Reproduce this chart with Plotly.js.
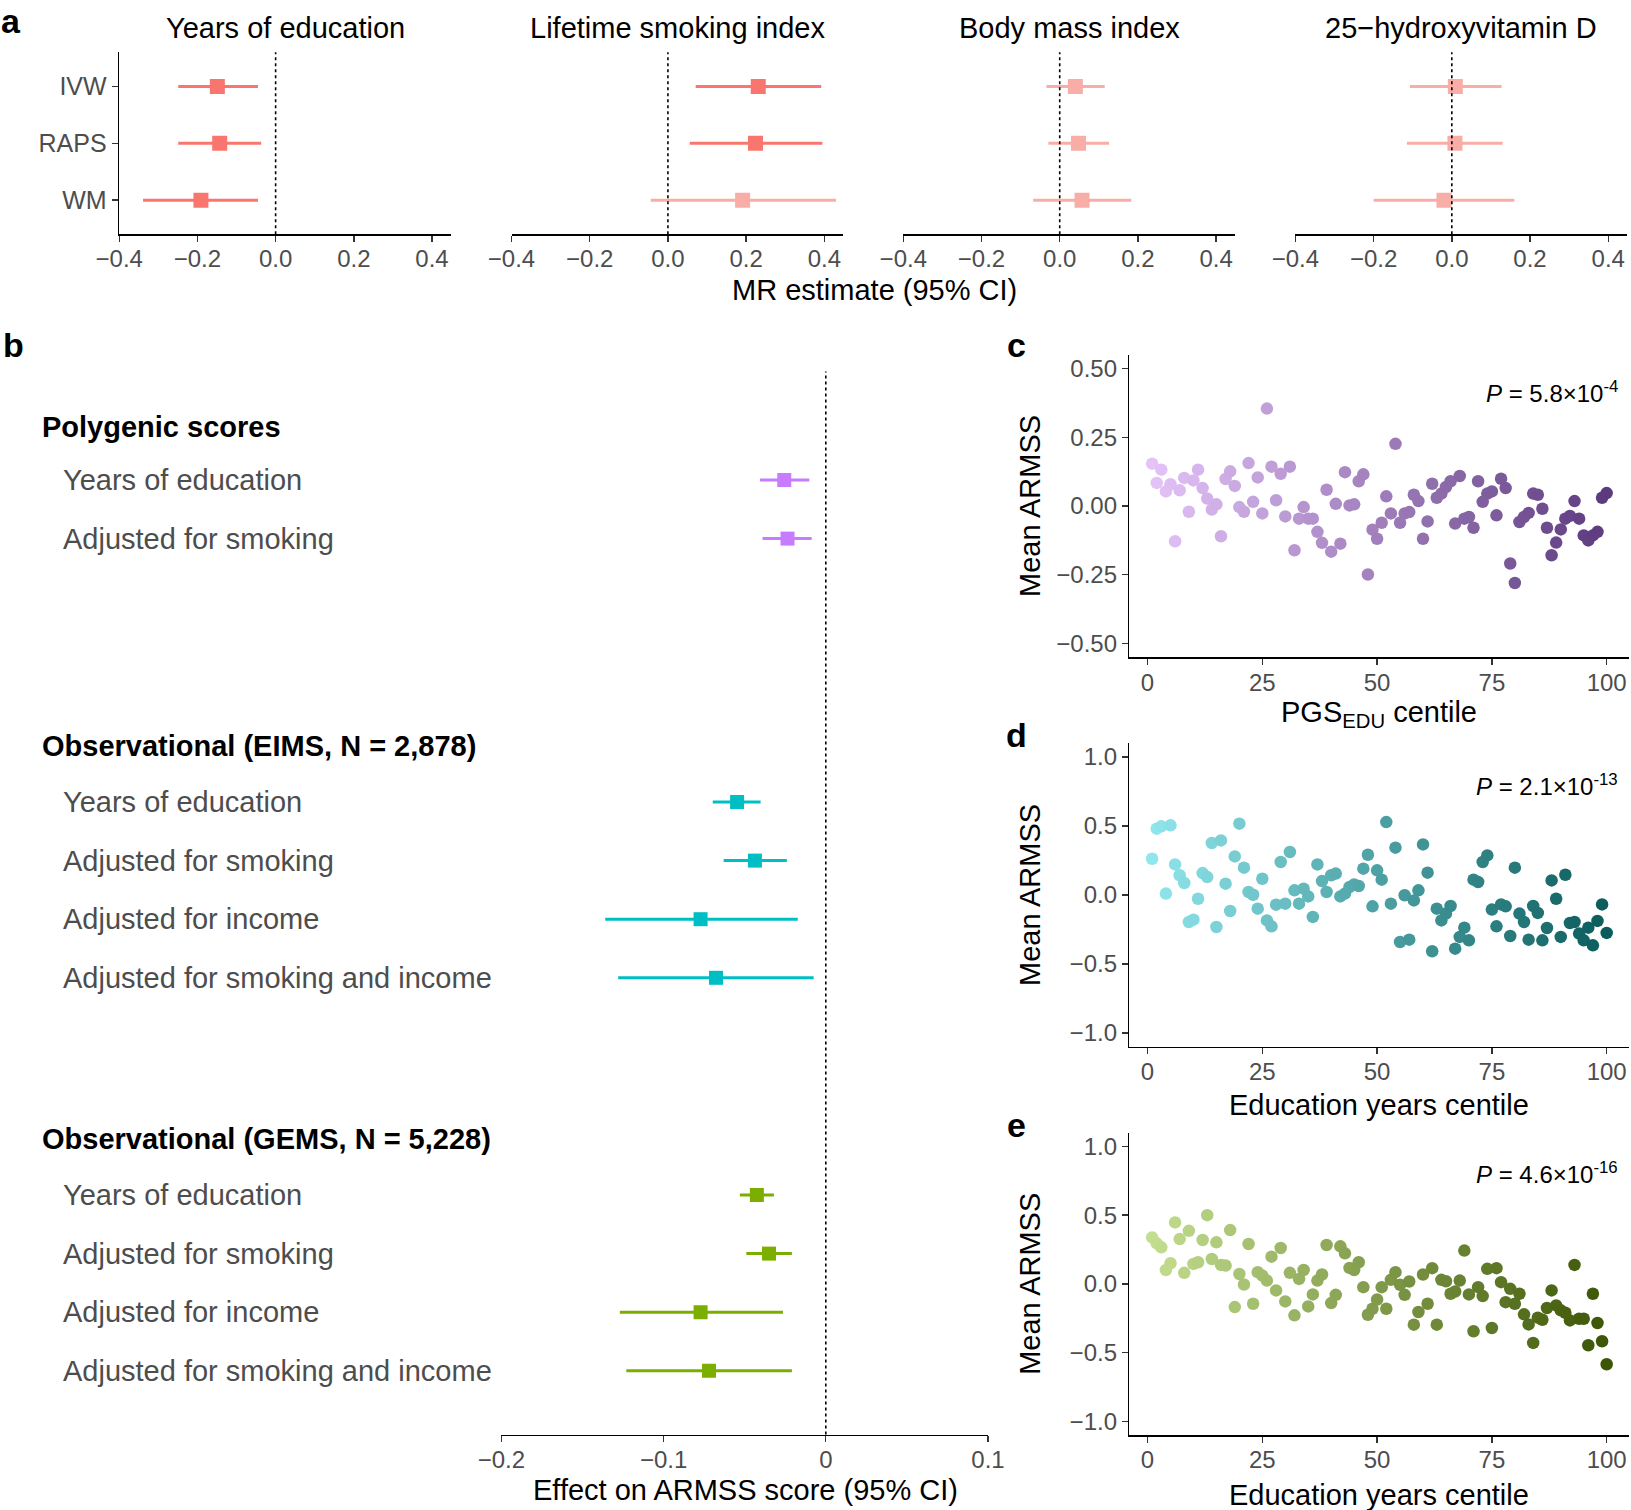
<!DOCTYPE html>
<html>
<head>
<meta charset="utf-8">
<script src="https://cdn.plot.ly/plotly-3.0.1.min.js"></script>
<style>
html, body { margin: 0; padding: 0; background: #fff; }
#fig { width: 1631px; height: 1510px; }
</style>
</head>
<body>
<div id="fig"></div>
<script>
const W = 1631, H = 1510;
const fx = p => p / W;
const fy = p => 1 - p / H;
const FONT = 'Liberation Sans, Arial, Helvetica, sans-serif';

// ---- panel a: MR estimates ----
const exposures = ['Years of education', 'Lifetime smoking index', 'Body mass index', '25\u2212hydroxyvitamin D'];
const methods = ['IVW', 'RAPS', 'WM'];
const mrEst = [[-0.149, -0.143, -0.191], [0.231, 0.224, 0.191], [0.040, 0.048, 0.057], [0.009, 0.008, -0.020]];
const mrLo  = [[-0.249, -0.249, -0.339], [0.071, 0.056, -0.044], [-0.034, -0.029, -0.068], [-0.107, -0.115, -0.200]];
const mrHi  = [[-0.045, -0.037, -0.045], [0.392, 0.395, 0.430], [0.115, 0.126, 0.183], [0.127, 0.130, 0.160]];

// ---- panel b: effect on ARMSS ----
const groupNames = ['Polygenic scores', 'Observational (EIMS, N = 2,878)', 'Observational (GEMS, N = 5,228)'];
const groupColors = ['#C77CFF', '#00BFC4', '#7CAE00'];
const pgsLabels = ['Years of education', 'Adjusted for smoking'];
const obsLabels = ['Years of education', 'Adjusted for smoking', 'Adjusted for income', 'Adjusted for smoking and income'];
const pgsEst = [-0.0256, -0.0236];
const pgsLo = [-0.0406, -0.0390];
const pgsHi = [-0.0102, -0.0087];
const eimsEst = [-0.0547, -0.0437, -0.0772, -0.0677];
const eimsLo = [-0.0697, -0.0630, -0.1360, -0.1280];
const eimsHi = [-0.0402, -0.0240, -0.0173, -0.0075];
const gemsEst = [-0.0425, -0.0350, -0.0772, -0.0720];
const gemsLo = [-0.0530, -0.0490, -0.1270, -0.1230];
const gemsHi = [-0.0320, -0.0209, -0.0264, -0.0209];

// ---- panels c-e: mean ARMSS per centile ----
const centiles = Array.from({length: 100}, (_, i) => i + 1);
const pgsArmss = [
  0.154, 0.084, 0.132, 0.053, 0.079, -0.128, 0.057, 0.102, -0.021, 0.093,
  0.132, 0.065, 0.027, -0.013, 0.006, -0.110, 0.098, 0.126, 0.073, -0.004,
  -0.021, 0.156, 0.015, 0.104, -0.027, 0.354, 0.143, 0.021, 0.117, -0.038,
  0.143, -0.161, -0.046, -0.004, -0.046, -0.046, -0.094, -0.134, 0.059, -0.166,
  0.008, -0.137, 0.123, 0.002, 0.006, 0.090, 0.115, -0.249, -0.086, -0.119,
  -0.061, 0.035, -0.027, 0.226, -0.061, -0.027, -0.022, 0.041, 0.018, -0.119,
  -0.056, 0.081, 0.030, 0.045, 0.069, 0.090, -0.064, 0.109, -0.046, -0.040,
  -0.079, 0.090, 0.015, 0.045, 0.053, -0.034, 0.099, 0.065, -0.209, -0.280,
  -0.058, -0.040, -0.025, 0.045, 0.041, -0.010, -0.079, -0.179, -0.133, -0.085,
  -0.046, -0.036, 0.018, -0.046, -0.107, -0.125, -0.107, -0.094, 0.030, 0.047
];
const eimsArmss = [
  0.263, 0.481, 0.498, 0.010, 0.505, 0.222, 0.143, 0.087, -0.196, -0.179,
  -0.027, 0.159, 0.130, 0.377, -0.232, 0.396, 0.082, -0.116, 0.280, 0.517,
  0.198, 0.022, 0.002, -0.099, 0.118, -0.184, -0.227, -0.070, 0.239, -0.063,
  0.312, 0.034, -0.063, 0.046, -0.010, -0.159, 0.222, 0.101, 0.022, 0.143,
  0.155, -0.010, 0.010, 0.058, 0.077, 0.065, 0.191, 0.292, -0.082, 0.179,
  0.111, 0.529, -0.063, 0.343, -0.341, -0.002, -0.324, -0.039, 0.034, 0.367,
  0.162, -0.408, -0.099, -0.184, -0.135, -0.080, -0.389, -0.304, -0.237, -0.329,
  0.111, 0.094, 0.239, 0.287, -0.106, -0.227, -0.068, -0.082, -0.297, 0.198,
  -0.135, -0.196, -0.324, -0.080, -0.130, -0.329, -0.239, 0.106, -0.027, -0.304,
  0.147, -0.203, -0.196, -0.280, -0.329, -0.237, -0.365, -0.188, -0.068, -0.275
];
const gemsArmss = [
  0.338, 0.295, 0.266, 0.101, 0.150, 0.447, 0.326, 0.080, 0.386, 0.145,
  0.157, 0.319, 0.500, 0.181, 0.302, 0.138, 0.133, 0.391, -0.169, 0.072,
  -0.005, 0.290, -0.145, 0.085, 0.060, 0.024, 0.198, -0.048, 0.261, -0.128,
  0.080, -0.229, 0.036, 0.101, -0.164, -0.077, 0.024, 0.068, 0.283, -0.140,
  -0.080, 0.273, 0.222, 0.116, 0.101, 0.157, -0.024, -0.225, -0.181, -0.114,
  -0.024, -0.181, 0.029, 0.085, -0.007, -0.080, 0.017, -0.297, -0.205, 0.068,
  -0.145, 0.114, -0.297, 0.029, 0.019, -0.072, -0.056, 0.024, 0.242, -0.077,
  -0.345, -0.024, -0.089, 0.109, -0.321, 0.114, 0.012, -0.133, -0.036, -0.145,
  -0.072, -0.222, -0.295, -0.430, -0.246, -0.261, -0.176, -0.048, -0.157, -0.193,
  -0.210, -0.266, 0.138, -0.254, -0.254, -0.447, -0.072, -0.285, -0.418, -0.585
];
const pValues = ['5.8\u00d710<sup>-4</sup>', '2.1\u00d710<sup>-13</sup>', '4.6\u00d710<sup>-16</sup>'];
const scatterScales = [
  [[0, '#E3C3F8'], [1, '#5C3A7E']],
  [[0, '#8FE6EC'], [1, '#0B5C5C']],
  [[0, '#C4DE8F'], [1, '#3C5606']]
];
const scatterXTitles = ['PGS<sub>EDU</sub> centile', 'Education years centile', 'Education years centile'];

const traces = [];
const shapes = [];
const annotations = [];
const layout = {
  width: W, height: H,
  margin: {l: 0, r: 0, t: 0, b: 0},
  paper_bgcolor: '#fff', plot_bgcolor: 'rgba(0,0,0,0)',
  showlegend: false,
  font: {family: FONT, color: '#000'}
};

function axis(extra) {
  return Object.assign({
    showline: true, linecolor: '#000', linewidth: 1.6,
    ticks: 'outside', ticklen: 6, tickwidth: 1.4, tickcolor: '#333',
    showgrid: false, zeroline: false, fixedrange: true,
    tickfont: {family: FONT, size: 24, color: '#4D4D4D'}
  }, extra);
}
function note(text, x, y, extra) {
  annotations.push(Object.assign({
    text: text, xref: 'paper', yref: 'paper', x: x, y: y,
    showarrow: false, xanchor: 'center', yanchor: 'middle',
    font: {family: FONT, size: 29, color: '#000'}
  }, extra));
}
function forestPoint(x, y, lo, hi, col, xa, ya, size) {
  traces.push({
    type: 'scatter', mode: 'markers', x: [x], y: [y], xaxis: xa, yaxis: ya,
    marker: {symbol: 'square', size: size, color: col},
    error_x: {type: 'data', symmetric: false, array: [hi - x], arrayminus: [x - lo], color: col, thickness: 3, width: 0},
    hoverinfo: 'skip'
  });
}

// panel a
const aLeft = [119.2, 511.5, 903.3, 1295.4];
const aWidth = 331.6;
const red = '#F8766D', pink = '#F9ADA7';
exposures.forEach((name, j) => {
  const k = j === 0 ? '' : String(j + 1);
  layout['xaxis' + k] = axis({
    domain: [fx(aLeft[j]), fx(aLeft[j] + aWidth)], anchor: 'y' + k,
    range: [-0.4, 0.448], tickvals: [-0.4, -0.2, 0, 0.2, 0.4], tickformat: '.1f',
    ticklabelstandoff: -4
  });
  layout['yaxis' + k] = axis({
    domain: [fy(234.3), fy(52.3)], anchor: 'x' + k, range: [0.4, 3.6],
    tickvals: [3, 2, 1], ticktext: methods, visible: j === 0,
    tickfont: {family: FONT, size: 25, color: '#4D4D4D'}
  });
  methods.forEach((m, i) => {
    const sig = mrLo[j][i] > 0 || mrHi[j][i] < 0;
    forestPoint(mrEst[j][i], methods.length - i, mrLo[j][i], mrHi[j][i], sig ? red : pink, 'x' + k, 'y' + k, 15);
  });
  shapes.push({type: 'line', xref: 'x' + k, yref: 'y' + k + ' domain', x0: 0, x1: 0, y0: 0, y1: 1,
    line: {color: '#000', width: 1.6, dash: 'dot'}});
  note(name, fx(aLeft[j] + aWidth / 2), fy(28));
});
note('MR estimate (95% CI)', fx(874), fy(290));

// panel b
layout.xaxis5 = axis({
  domain: [fx(501.4), fx(988)], anchor: 'y5', range: [-0.2, 0.1],
  tickvals: [-0.2, -0.1, 0, 0.1], ticklabelstandoff: -3
});
layout.yaxis5 = {domain: [fy(1434.5), fy(371.5)], anchor: 'x5', range: [1434.5, 371.5], visible: false, fixedrange: true};
shapes.push({type: 'line', xref: 'x5', yref: 'y5 domain', x0: 0, x1: 0, y0: 0, y1: 1,
  line: {color: '#000', width: 1.6, dash: 'dot'}});
const headerY = [427, 746, 1139];
const rowY = (g, i) => headerY[g] + (g === 0 ? 53 : 56) + i * 58.6;
const bGroups = [
  [pgsLabels, pgsEst, pgsLo, pgsHi],
  [obsLabels, eimsEst, eimsLo, eimsHi],
  [obsLabels, gemsEst, gemsLo, gemsHi]
];
bGroups.forEach(([labels, est, lo, hi], g) => {
  annotations.push({text: '<b>' + groupNames[g] + '</b>', xref: 'paper', yref: 'y5', x: fx(40), y: headerY[g],
    xanchor: 'left', yanchor: 'middle', showarrow: false, font: {family: FONT, size: 29, color: '#000'}});
  labels.forEach((lab, i) => {
    const y = rowY(g, i);
    annotations.push({text: lab, xref: 'paper', yref: 'y5', x: fx(61), y: y,
      xanchor: 'left', yanchor: 'middle', showarrow: false, font: {family: FONT, size: 29, color: '#4D4D4D'}});
    forestPoint(est[i], y, lo[i], hi[i], groupColors[g], 'x5', 'y5', 14);
  });
});
note('Effect on ARMSS score (95% CI)', fx(745), fy(1490));

// panels c-e
const scatterTop = [354.7, 743.3, 1132.7];
const scatterBottom = [657.3, 1046.7, 1435];
const scatterRange = [[-0.55, 0.55], [-1.1, 1.1], [-1.1, 1.1]];
const scatterTicks = [[-0.5, -0.25, 0, 0.25, 0.5], [-1, -0.5, 0, 0.5, 1], [-1, -0.5, 0, 0.5, 1]];
const scatterFormat = ['.2f', '.1f', '.1f'];
const scatterY = [pgsArmss, eimsArmss, gemsArmss];
const xTitleY = [713.6, 1104.7, 1494.7];
const pY = [392, 785, 1173];
const letterY = [345, 735, 1125];
scatterY.forEach((vals, s) => {
  const k = String(6 + s);
  layout['xaxis' + k] = axis({
    domain: [fx(1129.4), fx(1629.4)], anchor: 'y' + k, range: [-3.95, 104.95],
    tickvals: [0, 25, 50, 75, 100], ticklabelstandoff: -3
  });
  layout['yaxis' + k] = axis({
    domain: [fy(scatterBottom[s]), fy(scatterTop[s])], anchor: 'x' + k, range: scatterRange[s],
    tickvals: scatterTicks[s], tickformat: scatterFormat[s]
  });
  traces.push({
    type: 'scatter', mode: 'markers', x: centiles, y: vals, xaxis: 'x' + k, yaxis: 'y' + k,
    marker: {size: 12.5, color: centiles, colorscale: scatterScales[s], cmin: 1, cmax: 100, showscale: false, line: {width: 0}},
    hoverinfo: 'skip'
  });
  note('Mean ARMSS', fx(1030), fy((scatterTop[s] + scatterBottom[s]) / 2), {textangle: -90});
  note(scatterXTitles[s], fx(1379), fy(xTitleY[s]));
  note('<i>P</i> = ' + pValues[s], fx(1620), fy(pY[s]), {xanchor: 'right', font: {family: FONT, size: 24, color: '#000'}});
  note('<b>' + 'cde'[s] + '</b>', fx(1016), fy(letterY[s]), {font: {family: FONT, size: 34, color: '#000'}});
});
note('<b>a</b>', fx(11), fy(0), {yanchor: 'top', font: {family: FONT, size: 34, color: '#000'}});
note('<b>b</b>', fx(13), fy(345), {font: {family: FONT, size: 34, color: '#000'}});

layout.shapes = shapes;
layout.annotations = annotations;
Plotly.newPlot('fig', traces, layout, {displayModeBar: false, staticPlot: true});
</script>
</body>
</html>
